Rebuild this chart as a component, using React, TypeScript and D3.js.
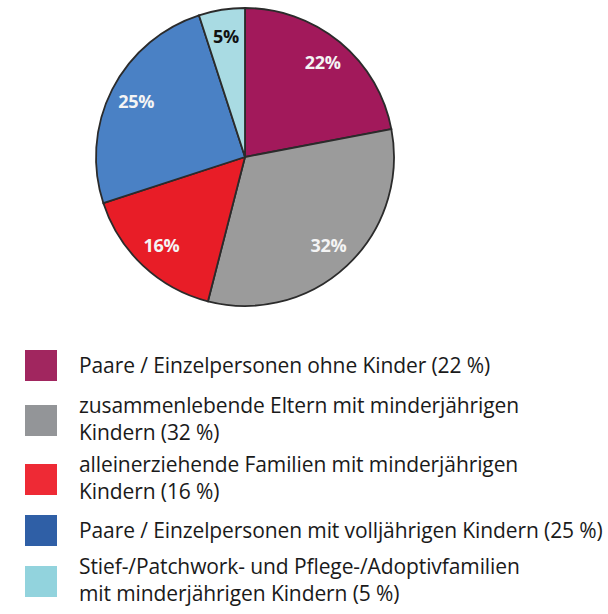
import React from "react";
import * as d3 from "d3";

const labels = ["22%", "32%", "16%", "25%", "5%"];
const values = [22, 32, 16, 25, 5];
const pieColors = ["#a2195b", "#9b9b9b", "#e81d27", "#4a81c5", "#a9dbe3"];
const legendColors = ["#a1265f", "#939598", "#ee2a35", "#2f5fa6", "#92d3dd"];
const labelColors = ["#f4f4f4", "#f4f4f4", "#f4f4f4", "#f4f4f4", "#111111"];
const legendLines = [
  ["Paare / Einzelpersonen ohne Kinder (22 %)"],
  ["zusammenlebende Eltern mit minderjährigen", "Kindern (32 %)"],
  ["alleinerziehende Familien mit minderjährigen", "Kindern (16 %)"],
  ["Paare / Einzelpersonen mit volljährigen Kindern (25 %)"],
  ["Stief-/Patchwork- und Pflege-/Adoptivfamilien", "mit minderjährigen Kindern (5 %)"],
];

const W = 608;
const H = 614;

export default function App() {
  const cx = 245;
  const cy = 157;
  const r = 149;

  const pie = d3.pie<number>().sort(null).value((d) => d);
  const arcs = pie(values);
  const arc = d3.arc<d3.PieArcDatum<number>>().innerRadius(0).outerRadius(r);
  const labelArc = d3
    .arc<d3.PieArcDatum<number>>()
    .innerRadius(122)
    .outerRadius(122);

  // legend rows: top of square for each entry
  const rowTop = [350, 405, 464, 515, 566];
  const font = "'Open Sans', sans-serif";

  return (
    <svg
      width={W}
      height={H}
      style={{ position: "absolute", left: 0, top: 0, background: "#fff" }}
    >
      <g transform={`translate(${cx},${cy})`}>
        {arcs.map((a, i) => (
          <path
            key={i}
            d={arc(a) as string}
            fill={pieColors[i]}
            stroke="#2b2b2b"
            strokeWidth={1.8}
          />
        ))}
        {arcs.map((a, i) => {
          const [x, y] = labelArc.centroid(a);
          return (
            <text
              key={i}
              x={x}
              y={y}
              dy="0.35em"
              textAnchor="middle"
              fontFamily={font}
              fontWeight={700}
              fontSize={18}
              letterSpacing={-0.3}
              fill={labelColors[i]}
            >
              {labels[i]}
            </text>
          );
        })}
      </g>
      {legendLines.map((lines, i) => {
        const top = rowTop[i];
        const twoLines = lines.length > 1;
        const base = twoLines ? top + 8 : top + 23;
        return (
          <g key={i}>
            <rect x={25} y={top} width={32} height={31} fill={legendColors[i]} />
            {lines.map((t, j) => (
              <text
                key={j}
                x={79}
                y={base + j * 27}
                fontFamily={font}
                fontSize={21}
                fill="#1a1a1a"
                letterSpacing={-0.1}
              >
                {t}
              </text>
            ))}
          </g>
        );
      })}
    </svg>
  );
}
